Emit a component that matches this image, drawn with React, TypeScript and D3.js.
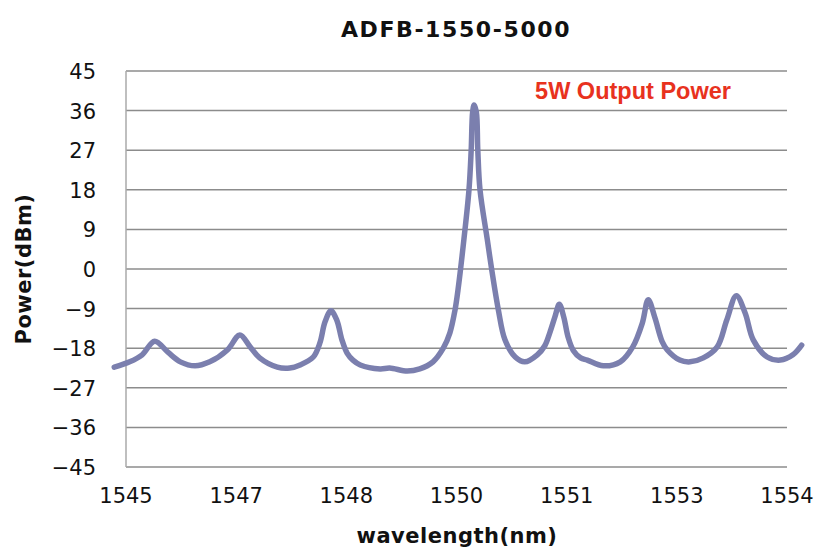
import React from "react";
import * as d3 from "d3";

const wavelength = [
  1544.84, 1545.05, 1545.22, 1545.39, 1545.57, 1545.74, 1545.94, 1546.14, 1546.38, 1546.55,
  1546.69, 1546.82, 1547.06, 1547.23, 1547.37, 1547.55, 1547.64, 1547.71, 1547.79, 1547.87,
  1547.94, 1548.01, 1548.09, 1548.19, 1548.46, 1548.59, 1548.83, 1549.0, 1549.18, 1549.32,
  1549.41, 1549.48, 1549.52, 1549.6, 1549.67, 1549.7, 1549.72, 1549.74, 1549.77, 1549.79,
  1549.82, 1549.92, 1549.98, 1550.07, 1550.16, 1550.3, 1550.43, 1550.6, 1550.7, 1550.77,
  1550.84, 1550.9, 1550.96, 1551.02, 1551.09, 1551.19, 1551.28, 1551.5, 1551.73, 1551.9,
  1552.03, 1552.11, 1552.2, 1552.3, 1552.37, 1552.54, 1552.68, 1552.86, 1553.05, 1553.18,
  1553.31, 1553.43, 1553.54, 1553.73, 1553.91, 1554.08, 1554.2,
];
const power = [
  -22.3, -21.1, -19.5, -16.4, -18.9, -21.1, -22.0, -21.1, -18.4, -15.0,
  -17.7, -20.2, -22.3, -22.5, -21.8, -20.0, -16.8, -12.0, -9.5, -11.6,
  -16.1, -19.1, -20.7, -21.8, -22.7, -22.5, -23.2, -22.7, -21.1, -18.0,
  -14.5, -9.3, -4.8, 6.6, 18.0, 27.0, 35.7, 37.3, 35.7, 27.0,
  18.0, 6.6, -0.2, -9.3, -16.1, -20.0, -21.1, -19.5, -17.5, -14.5,
  -10.9, -8.0, -10.9, -15.5, -18.5, -20.2, -20.7, -22.0, -21.1, -17.7,
  -12.3, -7.0, -11.0, -16.5, -18.4, -20.7, -21.1, -20.2, -17.7, -11.6,
  -6.1, -10.0, -16.1, -20.0, -20.7, -19.5, -17.3,
];
const yTicks = [-45, -36, -27, -18, -9, 0, 9, 18, 27, 36, 45];
const xTicks = [1545, 1546.5, 1548, 1549.5, 1551, 1552.5, 1554];
const title = "ADFB-1550-5000";
const annotation = "5W Output Power";
const xTitle = "wavelength(nm)";
const yTitle = "Power(dBm)";

export default function App() {
  const W = 819, H = 549;
  const left = 126, right = 787, top = 71, bottom = 467;
  const x = d3.scaleLinear().domain([1545, 1554]).range([left, right]);
  const y = d3.scaleLinear().domain([-45, 45]).range([bottom, top]);
  const pts = wavelength.map((w, i) => [w, power[i]] as [number, number]);
  const line = d3.line<[number, number]>().x(d => x(d[0])).y(d => y(d[1])).curve(d3.curveCatmullRom.alpha(0.5));
  const fmtY = d3.format("d");
  const font = "'DejaVu Sans', sans-serif";
  return (
    <svg width={W} height={H} style={{ position: "absolute", left: 0, top: 0, background: "#fff" }}>
      <text x={456} y={37} textAnchor="middle" fontFamily={font} fontWeight="bold" fontSize={22} letterSpacing={1.6} fill="#111">{title}</text>
      {yTicks.map(t => (
        <line key={"g" + t} x1={left} x2={right} y1={y(t)} y2={y(t)} stroke="#8c8c8c" strokeWidth={1.5} />
      ))}
      <line x1={left} x2={left} y1={top} y2={bottom} stroke="#aaaaaa" strokeWidth={1.5} />
      {yTicks.map(t => (
        <text key={"y" + t} x={96} y={y(t) + 8} textAnchor="end" fontFamily={font} fontSize={21} fill="#111">{fmtY(t)}</text>
      ))}
      {xTicks.map(t => (
        <text key={"x" + t} x={x(t)} y={503} textAnchor="middle" fontFamily={font} fontSize={21} fill="#111">{t.toFixed(0)}</text>
      ))}
      <path d={line(pts) || ""} fill="none" stroke="#7b7fae" strokeWidth={5.5} strokeLinejoin="round" strokeLinecap="round" />
      <text x={633} y={99} textAnchor="middle" fontFamily="'Liberation Sans', Arial, sans-serif" fontWeight="bold" fontSize={23.5} fill="#e8321e">{annotation}</text>
      <text x={457} y={543} textAnchor="middle" fontFamily={font} fontWeight="bold" fontSize={21} letterSpacing={0.5} fill="#111">{xTitle}</text>
      <text transform={`translate(31,${(top + bottom) / 2}) rotate(-90)`} textAnchor="middle" fontFamily={font} fontWeight="bold" fontSize={21} letterSpacing={0.5} fill="#111">{yTitle}</text>
    </svg>
  );
}
